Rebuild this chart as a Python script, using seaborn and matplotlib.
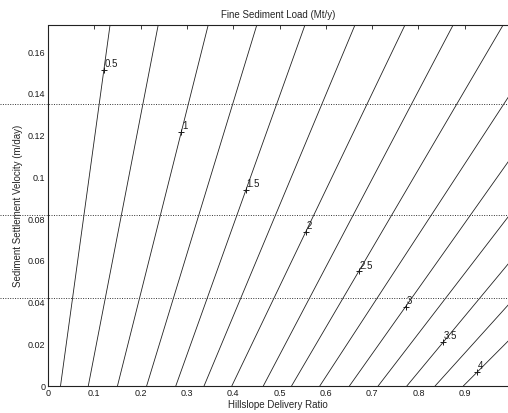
import numpy as np
import pandas as pd
import matplotlib
matplotlib.use("Agg")
import matplotlib.pyplot as plt
import seaborn as sns

# ---- data ----
levels = [0.5, 0.75, 1.0, 1.25, 1.5, 1.75, 2.0, 2.25, 2.5, 2.75, 3.0, 3.25, 3.5, 3.75, 4.0]
# hillslope delivery ratio where each contour meets velocity = 0
hdr_at_zero = [0.027, 0.087, 0.150, 0.213, 0.276, 0.337, 0.397, 0.465,
               0.526, 0.587, 0.651, 0.713, 0.775, 0.836, 0.897]
# where each contour leaves the plotted window (top edge or right edge)
hdr_at_end = [0.134, 0.238, 0.346, 0.451, 0.555, 0.663, 0.771, 0.875,
              0.983, 0.995, 0.995, 0.995, 0.995, 0.995, 0.995]
vel_at_end = [0.173, 0.173, 0.173, 0.173, 0.173, 0.173, 0.173, 0.173,
              0.173, 0.1387, 0.1078, 0.0814, 0.0588, 0.0391, 0.0218]

label_levels = [0.5, 1.0, 1.5, 2.0, 2.5, 3.0, 3.5, 4.0]
label_texts = ["0.5", "1", "1.5", "2", "2.5", "3", "3.5", "4"]
label_vel = [0.1514, 0.1217, 0.094, 0.074, 0.055, 0.038, 0.021, 0.0067]

ref_vel = [0.042, 0.082, 0.135]

xticks = [0, 0.1, 0.2, 0.3, 0.4, 0.5, 0.6, 0.7, 0.8, 0.9]
xticklabels = ["0", "0.1", "0.2", "0.3", "0.4", "0.5", "0.6", "0.7", "0.8", "0.9"]
yticks = [0, 0.02, 0.04, 0.06, 0.08, 0.1, 0.12, 0.14, 0.16]
yticklabels = ["0", "0.02", "0.04", "0.06", "0.08", "0.1", "0.12", "0.14", "0.16"]

# ---- long-form table for seaborn ----
rows = []
for lv, h0, h1, v1 in zip(levels, hdr_at_zero, hdr_at_end, vel_at_end):
    rows.append({"level": lv, "hdr": h0, "vel": 0.0})
    rows.append({"level": lv, "hdr": h1, "vel": v1})
df = pd.DataFrame(rows)

sns.set_theme(style="white")
plt.rcParams["font.family"] = ["Liberation Sans", "DejaVu Sans"]

W, H = 508, 413
fig = plt.figure(figsize=(W / 100, H / 100), dpi=100)
ax_left, ax_right, ax_top, ax_bottom = 48, 508, 25, 386
ax = fig.add_axes([ax_left / W, (H - ax_bottom) / H,
                   (ax_right - ax_left) / W, (ax_bottom - ax_top) / H])

sns.lineplot(data=df, x="hdr", y="vel", units="level", estimator=None,
             sort=False, color="#222222", linewidth=0.6, legend=False, ax=ax)

# contour labels (MATLAB style "+" marker with text)
for lv, txt, v in zip(label_levels, label_texts, label_vel):
    i = levels.index(lv)
    h = hdr_at_zero[i] + (hdr_at_end[i] - hdr_at_zero[i]) * v / vel_at_end[i]
    ax.plot([h], [v], marker="+", color="k", markersize=5, markeredgewidth=0.7)
    ax.annotate(txt, (h, v), xytext=(0.5, 0.5), textcoords="offset points",
                ha="left", va="bottom", fontsize=7, color="k")

# dotted reference lines spanning the full width
ax.hlines(ref_vel, -ax_left / (ax_right - ax_left), 1,
          transform=ax.get_yaxis_transform(), colors="#333333",
          linestyles=(0, (1, 1.5)), linewidth=0.7, clip_on=False)

ax.set_xlim(0, (ax_right - ax_left) / 463.0)
ax.set_ylim(0, 0.173)
ax.set_xticks(xticks)
ax.set_xticklabels(xticklabels)
ax.set_yticks(yticks)
ax.set_yticklabels(yticklabels)
ax.tick_params(direction="in", length=3, width=0.6, top=True, right=False,
               labelsize=6.5, pad=2, colors="k")

ax.set_title("Fine Sediment Load (Mt/y)", fontsize=7, pad=5)
ax.set_xlabel("Hillslope Delivery Ratio", fontsize=7, labelpad=1.5)
ax.set_ylabel("Sediment Settlement Velocity (m/day)", fontsize=7, labelpad=3)

for side in ["top", "bottom"]:
    ax.spines[side].set_linestyle((0, (1, 1)))
    ax.spines[side].set_linewidth(0.8)
    ax.spines[side].set_color("#222222")
ax.spines["left"].set_linestyle((0, (4, 1)))
ax.spines["left"].set_linewidth(0.8)
ax.spines["left"].set_color("#222222")
ax.spines["right"].set_visible(False)

fig.savefig("out.png", dpi=100)
